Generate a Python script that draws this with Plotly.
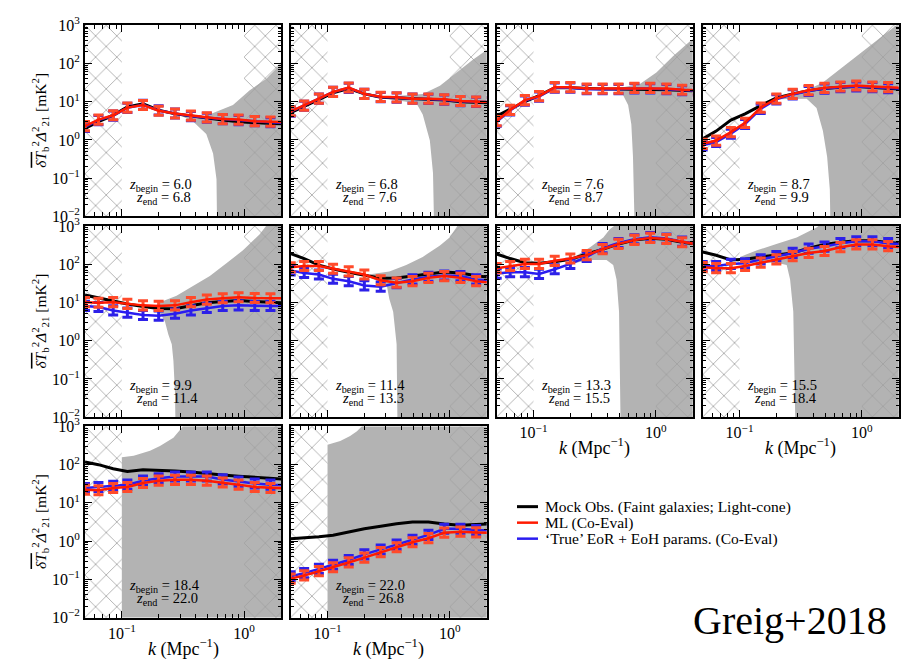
import numpy as np
import plotly.graph_objects as go

# ---------------- data ----------------
K = [0.05, 0.0644, 0.085, 0.111, 0.149, 0.20, 0.272, 0.367, 0.495, 0.668, 0.90, 1.22, 1.64, 2.2]

Z_BEGIN = ['6.0', '6.8', '7.6', '8.7', '9.9', '11.4', '13.3', '15.5', '18.4', '22.0']
Z_END = ['6.8', '7.6', '8.7', '9.9', '11.4', '13.3', '15.5', '18.4', '22.0', '26.8']

MOCK_OBS = [
    [2.0, 3.0, 4.4, 7.3, 8.8, 6.0, 4.8, 4.2, 3.7, 3.3, 3.0, 2.8, 2.7, 2.6],
    [5.2, 7.5, 11.5, 17, 22, 16, 13, 12.5, 12, 11.5, 11, 10, 9.5, 9.3],
    [4.2, 6.5, 10, 14.5, 23, 23, 22, 21.5, 21.5, 21.5, 21, 20.5, 19.5, 19],
    [1.06, 1.7, 3.3, 4.8, 7.9, 12.5, 16, 19.5, 22, 24, 25, 24, 22.5, 21],
    [15.6, 13, 11, 9.1, 7.9, 7.0, 6.9, 8.2, 9.8, 10.6, 11.2, 10.6, 10.0, 9.7],
    [190, 140, 95, 75, 62, 53, 43, 44, 50, 57, 63, 59, 50, 45],
    [186, 141, 110, 106, 117, 134, 185, 245, 340, 430, 480, 450, 375, 330],
    [210, 172, 129, 135, 155, 172, 198, 265, 330, 377, 415, 415, 370, 350],
    [117, 100, 78, 66, 74, 72, 68, 64, 58, 54, 50, 46, 43, 41],
    [1.15, 1.2, 1.3, 1.42, 1.75, 2.1, 2.45, 2.85, 3.16, 3.16, 2.8, 2.6, 2.7, 2.85],
]

ML_COEVAL = [
    [2.3, 3.4, 4.4, 7.0, 8.2, 5.8, 4.9, 4.3, 3.9, 3.5, 3.4, 3.1, 3.0, 2.9],
    [5.6, 7.9, 12, 18, 23.5, 16, 13.4, 13, 12, 12, 11.5, 10.4, 10, 9.8],
    [3.1, 6.1, 11, 14, 24, 24, 22, 22, 22, 23, 23, 22, 20.5, 20],
    [0.79, 0.96, 1.6, 2.8, 7, 12, 16, 20, 23, 25, 26.5, 25, 24, 23],
    [10.2, 9.8, 10.2, 9.2, 8.4, 8.1, 8.4, 10.2, 11.9, 12.9, 13.7, 13.1, 12.9, 12.8],
    [83, 90, 90, 76, 65, 54, 38, 33, 36, 44, 49, 44, 36, 33],
    [79, 90, 102, 102, 123, 141, 173, 248, 342, 433, 490, 457, 377, 330],
    [84, 79, 79, 90, 110, 134, 163, 198, 222, 280, 330, 330, 297, 280],
    [22, 21.4, 24.5, 26, 33, 38, 40, 40, 38, 34, 30, 26, 24.5, 24],
    [0.104, 0.126, 0.163, 0.206, 0.276, 0.37, 0.515, 0.69, 0.93, 1.19, 1.66, 1.76, 1.69, 1.65],
]

TRUE_COEVAL = [
    [2.2, 3.3, 4.3, 6.9, 8.3, 5.9, 4.9, 4.2, 3.8, 3.5, 3.3, 3.1, 2.9, 2.8],
    [5.5, 7.8, 12, 18, 23, 16, 13.2, 12.8, 12, 11.8, 11.3, 10.3, 9.9, 9.7],
    [3.0, 5.9, 10.7, 13.6, 23.3, 23.3, 21.3, 21.3, 21.3, 22.3, 22.3, 21.3, 19.9, 19.4],
    [0.72, 0.88, 1.45, 2.6, 6.5, 11.5, 15.5, 19, 22, 24, 25, 24, 22.5, 22],
    [8.1, 7.6, 6.2, 5.4, 4.7, 4.5, 5.1, 6.2, 7.2, 8.1, 8.4, 8.1, 8.1, 8.0],
    [69, 59, 54, 41.6, 36, 28, 26, 32, 40, 47, 50.6, 49, 40, 37],
    [57, 62, 62, 56, 74, 102, 156, 265, 360, 450, 510, 470, 390, 345],
    [90, 90, 102, 106, 134, 163, 198, 255, 290, 355, 400, 400, 355, 335],
    [24.5, 26, 28, 30, 38, 44, 49, 49, 49, 41, 36, 32, 30, 29],
    [0.12, 0.145, 0.187, 0.24, 0.32, 0.45, 0.60, 0.81, 1.08, 1.45, 2.1, 2.1, 1.94, 1.9],
]

# 1-sigma noise band around the mock observation (upper / lower edges)
BAND_UP_K = [
    [0.30, 0.384, 0.49, 0.594, 0.81, 1.11, 1.51, 1.97, 2.3],
    [0.304, 0.60, 0.83, 1.13, 1.54, 1.92, 2.3],
    [0.45, 0.54, 0.74, 1.01, 1.38, 1.88, 2.3],
    [0.20, 0.354, 0.48, 0.66, 0.90, 1.23, 1.68, 1.9, 2.3],
    [0.193, 0.205, 0.28, 0.383, 0.524, 0.716, 0.978, 1.34, 1.51, 2.3],
    [0.223, 0.32, 0.44, 0.60, 0.83, 0.995, 1.13, 1.3, 2.3],
    [0.212, 0.29, 0.372, 0.42, 0.54, 2.3],
    [0.101, 0.139, 0.20, 0.293, 0.426, 0.55, 2.3],
    [0.1, 0.125, 0.17, 0.205, 0.264, 0.308, 0.34, 2.3],
    [0.1, 0.127, 0.153, 0.174, 0.19, 0.21, 2.3],
]
BAND_UP = [
    [4.7, 3.9, 4.3, 5.6, 8.2, 20, 39, 94, 140],
    [13.5, 16, 26, 58, 126, 205, 300],
    [23, 24, 29, 58, 154, 370, 600],
    [13, 20, 32, 70, 154, 335, 730, 980, 1800],
    [9, 10.2, 15, 27, 49, 106, 232, 610, 1000, 4000],
    [55, 65, 96, 156, 310, 505, 910, 2000, 5000],
    [150, 280, 505, 830, 1500, 5000],
    [156, 232, 340, 505, 910, 1800, 5000],
    [156, 172, 230, 310, 505, 910, 1500, 5000],
    [330, 415, 560, 750, 1000, 1500, 5000],
]
BAND_LO_K = [
    [0.30, 0.384, 0.49, 0.557, 0.594, 0.61, 2.3],
    [0.304, 0.533, 0.60, 0.686, 0.728, 0.762, 2.3],
    [0.45, 0.54, 0.593, 0.63, 0.65, 0.69, 2.3],
    [0.20, 0.259, 0.354, 0.426, 0.48, 0.52, 0.547, 0.565, 2.3],
    [0.193, 0.225, 0.24, 0.256, 0.264, 0.272, 0.28, 2.3],
    [0.223, 0.304, 0.32, 0.344, 0.367, 0.378, 2.3],
    [0.212, 0.29, 0.395, 0.448, 0.477, 0.50, 0.524, 2.3],
    [0.101, 0.139, 0.20, 0.243, 0.259, 0.275, 0.293, 2.3],
    [0.1, 2.3],
    [0.1, 2.3],
]
BAND_LO = [
    [4.4, 3.0, 1.42, 0.44, 0.093, 1e-4, 1e-4],
    [12, 9.1, 4.6, 0.96, 0.137, 1e-4, 1e-4],
    [21, 14.8, 8.2, 2.55, 0.36, 1e-4, 1e-4],
    [11.5, 11.7, 12, 6.8, 1.73, 0.36, 0.05, 1e-4, 1e-4],
    [7.6, 3.2, 1.45, 0.81, 0.30, 0.043, 1e-4, 1e-4],
    [44, 30, 12.4, 5.7, 0.81, 1e-4, 1e-4],
    [106, 129, 129, 96, 40, 5.7, 1e-4, 1e-4],
    [106, 110, 110, 96, 40, 5.7, 1e-4, 1e-4],
    [1e-4, 1e-4],
    [1e-4, 1e-4],
]

K_CUTS = [0.1, 1.0]           # vertical dashed limits (hatched outside)
X_RANGE = [0.05, 2.0]
Y_RANGE = [1e-2, 1e3]

X_TICKS = [0.1, 1.0]
X_TICK_TEXT = ['10<sup>\u22121</sup>', '10<sup>0</sup>']
Y_TICKS = [1e-2, 1e-1, 1e0, 1e1, 1e2, 1e3]
Y_TICK_TEXT = ['10<sup>\u22122</sup>', '10<sup>\u22121</sup>', '10<sup>0</sup>',
               '10<sup>1</sup>', '10<sup>2</sup>', '10<sup>3</sup>']
X_MINOR = [0.06, 0.07, 0.08, 0.09, 0.2, 0.3, 0.4, 0.5, 0.6, 0.7, 0.8, 0.9, 2.0]
Y_MINOR = [m * 10.0 ** e for e in range(-2, 3) for m in range(2, 10)]

LEGEND_NAMES = ['Mock Obs. (Faint galaxies; Light-cone)', 'ML (Co-Eval)',
                '\u2018True\u2019 EoR + EoH params. (Co-Eval)']

# ---------------- style ----------------
FONT = 'Liberation Serif'
W, H = 905, 666
COL_X = [85, 290.7, 496.7, 702.7]
ROW_Y = [14.7, 221.7, 428.3]
PW, PH = 196, 197
GRAY = '#b3b3b3'
RED = '#ff1a00'
RED_ERR = '#ff4a2a'
BLUE = '#2a1cf0'
BLUE_ERR = '#2d20e8'
LEGEND_COLORS = ['black', RED, BLUE]

fig = go.Figure()
layout = {}
shapes = []
annots = []

for i in range(10):
    n = i + 1
    row, col = divmod(i, 4)
    sfx = '' if n == 1 else str(n)
    xa, ya = 'x' + sfx, 'y' + sfx

    # noise band
    bx = BAND_UP_K[i] + BAND_LO_K[i][::-1]
    by = BAND_UP[i] + BAND_LO[i][::-1]
    fig.add_trace(go.Scatter(x=bx, y=by, mode='lines', fill='toself', fillcolor=GRAY,
                             line=dict(width=0, color=GRAY), hoverinfo='skip',
                             showlegend=False, xaxis=xa, yaxis=ya))
    # hatched excluded regions
    for x0, x1 in [(X_RANGE[0] * 0.5, K_CUTS[0]), (K_CUTS[1], X_RANGE[1] * 2)]:
        y0, y1 = Y_RANGE[0] * 0.01, Y_RANGE[1] * 100
        fig.add_trace(go.Scatter(
            x=[x0, x1, x1, x0, x0], y=[y0, y0, y1, y1, y0], mode='lines', fill='toself',
            fillcolor='rgba(0,0,0,0)',
            fillpattern=dict(shape='x', size=15, solidity=0.1, fgcolor='#a0a0a0',
                             fgopacity=1, bgcolor='rgba(0,0,0,0)'),
            line=dict(width=0, color='rgba(0,0,0,0)'), hoverinfo='skip',
            showlegend=False, xaxis=xa, yaxis=ya))

    # series
    fig.add_trace(go.Scatter(x=K, y=MOCK_OBS[i], mode='lines', name=LEGEND_NAMES[0],
                             showlegend=False,
                             line=dict(color='black', width=3), xaxis=xa, yaxis=ya))
    for vals, nm, lc, ec in [(TRUE_COEVAL[i], LEGEND_NAMES[2], BLUE, BLUE_ERR),
                             (ML_COEVAL[i], LEGEND_NAMES[1], RED, RED_ERR)]:
        fig.add_trace(go.Scatter(
            x=K, y=vals, mode='lines', name=nm, showlegend=False,
            line=dict(color=lc, width=2.5),
            error_y=dict(type='data', symmetric=False,
                         array=[v * 0.32 for v in vals], arrayminus=[v * 0.24 for v in vals],
                         thickness=3, width=5, color=ec),
            xaxis=xa, yaxis=ya))

    x0d = COL_X[col] / W
    y1d = 1 - ROW_Y[row] / H
    common = dict(showline=True, linewidth=2, linecolor='black', mirror='allticks',
                  ticks='inside', ticklen=7, tickwidth=1, tickcolor='black',
                  showgrid=False, zeroline=False, type='log',
                  tickfont=dict(family=FONT, size=16, color='black'))
    layout['xaxis' + sfx] = dict(
        common, domain=[x0d, x0d + PW / W], anchor=ya,
        range=[np.log10(X_RANGE[0]), np.log10(X_RANGE[1])],
        tickmode='array', tickvals=X_TICKS, ticktext=X_TICK_TEXT,
        showticklabels=(i in (6, 7, 8, 9)),
        minor=dict(tickmode='array', tickvals=X_MINOR, ticks='inside', ticklen=4,
                   tickcolor='black', showgrid=False))
    layout['yaxis' + sfx] = dict(
        common, domain=[y1d - PH / H, y1d], anchor=xa,
        range=[np.log10(Y_RANGE[0]) - 1e-4, np.log10(Y_RANGE[1]) + 1e-4],
        tickmode='array', tickvals=Y_TICKS, ticktext=Y_TICK_TEXT,
        showticklabels=(col == 0),
        minor=dict(tickmode='array', tickvals=Y_MINOR, ticks='inside', ticklen=3,
                   tickcolor='black', showgrid=False))

    for kc in K_CUTS:
        shapes.append(dict(type='line', xref=xa, yref=ya + ' domain',
                           x0=np.log10(kc), x1=np.log10(kc), y0=0, y1=1,
                           line=dict(color='#4a4a4a', width=1.2, dash='8px,5px')))

    # redshift labels
    for txt, xr, yr in [('<i>z</i><sub>begin</sub> = ' + Z_BEGIN[i], 42, 32.5),
                        ('<i>z</i><sub>end</sub> = ' + Z_END[i], 49, 19)]:
        annots.append(dict(text=txt, xref=xa + ' domain', yref=ya + ' domain',
                           x=xr / PW, y=yr / PH, xanchor='left', yanchor='middle',
                           showarrow=False, font=dict(family=FONT, size=14.5, color='black')))
    # x axis label
    if i in (6, 7, 8, 9):
        annots.append(dict(text='<i>k</i> (Mpc<sup>\u22121</sup>)', xref=xa + ' domain',
                           yref='paper', x=0.5, y=1 - (ROW_Y[row] + PH + 31) / H,
                           xanchor='center', yanchor='middle', showarrow=False,
                           font=dict(family=FONT, size=18, color='black')))

# y axis labels
for row in range(3):
    annots.append(dict(
        text='<span style="text-decoration:overline"><i>\u03b4T</i></span><sub>b</sub><sup>2</sup>'
             '<i>\u0394</i><sup>2</sup><sub>21</sub> [mK<sup>2</sup>]',
        xref='paper', yref='paper', x=40 / W, y=1 - (ROW_Y[row] + PH / 2) / H,
        textangle=-90, xanchor='center', yanchor='middle', showarrow=False,
        font=dict(family=FONT, size=15.5, color='black')))

# legend (drawn as key lines + labels)
LEG_X0, LEG_X1, LEG_TX = 517, 538, 543
for j, (nm, c) in enumerate(zip(LEGEND_NAMES, LEGEND_COLORS)):
    yy = 1 - (511 + 16.5 * j) / H
    shapes.append(dict(type='line', xref='paper', yref='paper', x0=LEG_X0 / W, x1=LEG_X1 / W,
                       y0=yy, y1=yy, line=dict(color=c, width=3 if j == 0 else 2.5)))
    annots.append(dict(text=nm, xref='paper', yref='paper', x=LEG_TX / W, y=yy,
                       xanchor='left', yanchor='middle', showarrow=False,
                       font=dict(family=FONT, size=15.5, color='black')))

annots.append(dict(text='Greig+2018', xref='paper', yref='paper', x=790 / W, y=1 - 628 / H,
                   xanchor='center', yanchor='middle', showarrow=False,
                   font=dict(family=FONT, size=40, color='black')))

fig.update_layout(
    width=W, height=H, autosize=False,
    margin=dict(l=0, r=0, t=0, b=0),
    paper_bgcolor='white', plot_bgcolor='white',
    shapes=shapes, annotations=annots, showlegend=False,
    **layout)

fig.write_html('out.html', config={'displayModeBar': False},
               post_script="document.body.style.margin='0';document.body.style.padding='0';"
                           "document.body.style.overflow='hidden';")
